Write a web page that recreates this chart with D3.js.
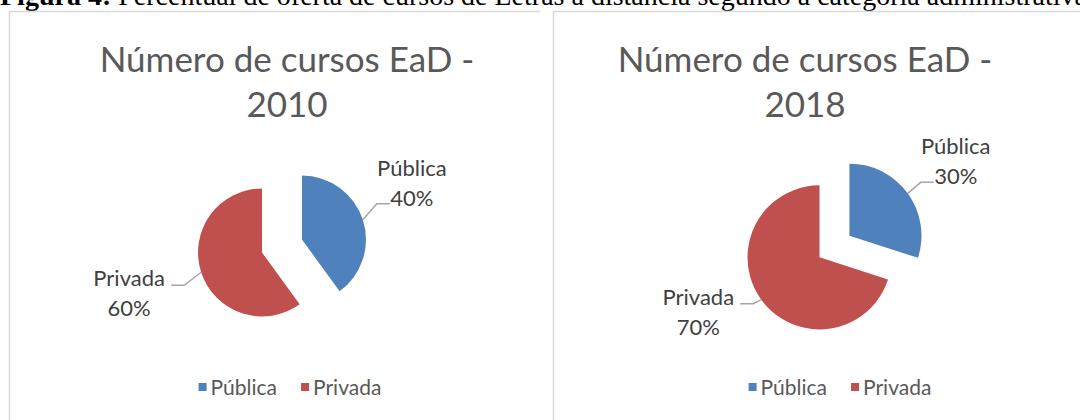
<!DOCTYPE html>
<html>
<head>
<meta charset="utf-8">
<script src="https://cdn.jsdelivr.net/npm/d3@7"></script>
<style>
  html, body { margin: 0; padding: 0; background: #fff; }
  svg { display: block; }
</style>
</head>
<body>
<div id="chart"></div>
<script>
const categories = ['Pública', 'Privada'];
const years = ['2010', '2018'];
const shares2010 = [40, 60];
const shares2018 = [30, 70];
const titleLines = ['Número de cursos EaD -'];
const captionBold = 'Figura 4:';
const captionText = ' Percentual de oferta de cursos de Letras a distância segundo a categoria administrativa';
const colors = ['#4f81bd', '#c0504d'];

const w = 1080, h = 420;
const sans = 'Lato, "Open Sans", sans-serif';

const svg = d3.select('#chart').append('svg')
    .attr('width', w)
    .attr('height', h);

// caption (cut at the top like in the page scan)
svg.append('text')
    .attr('x', 0)
    .attr('y', 5)
    .attr('font-family', '"Liberation Serif", "Times New Roman", serif')
    .attr('font-size', 28)
    .attr('fill', '#000')
    .call(t => t.append('tspan').attr('font-weight', 'bold').text(captionBold))
    .call(t => t.append('tspan').text(captionText));

// chart frames
const frame = svg.append('g')
    .attr('fill', 'none')
    .attr('stroke', '#d9d9d9')
    .attr('stroke-width', 1.5);
frame.append('path').attr('d', 'M9.5,' + h + 'V11.5H540');
frame.append('path').attr('d', 'M553.5,' + h + 'V11.5H' + w);

const charts = [
    { year: years[0], values: shares2010, cx: 282, cy: 246, r: 64, explode: 21, titleX: 287, legendX: 290,
      elbows: [[14, -16], [-17, 13]] },
    { year: years[1], values: shares2018, cx: 834.5, cy: 246.5, r: 72, explode: 18.5, titleX: 805, legendX: 840,
      elbows: [[13, -11], [-8, 4]] }
];

const pie = d3.pie().sort(null).value(d => d);

charts.forEach(c => {
    const g = svg.append('g');
    const arc = d3.arc().innerRadius(0).outerRadius(c.r);
    const slices = pie(c.values);

    // title
    g.append('text')
        .attr('x', c.titleX)
        .attr('y', 72)
        .attr('text-anchor', 'middle')
        .attr('font-family', sans)
        .attr('font-size', 35)
        .attr('fill', '#595959')
        .call(t => t.append('tspan').attr('x', c.titleX).text(titleLines[0]))
        .call(t => t.append('tspan').attr('x', c.titleX).attr('dy', 45).text(c.year));

    // slices, every point pulled out along its bisector
    const mid = d => (d.startAngle + d.endAngle) / 2;
    const off = d => [Math.sin(mid(d)) * c.explode, -Math.cos(mid(d)) * c.explode];

    g.selectAll('path.slice')
        .data(slices)
        .enter()
        .append('path')
        .attr('class', 'slice')
        .attr('d', arc)
        .attr('fill', (d, i) => colors[i])
        .attr('transform', d => 'translate(' + (c.cx + off(d)[0]) + ',' + (c.cy + off(d)[1]) + ')');

    // leader lines + labels
    slices.forEach((d, i) => {
        const a = mid(d);
        const side = Math.sin(a) >= 0 ? 1 : -1;
        const s = [c.cx + off(d)[0] + Math.sin(a) * c.r, c.cy + off(d)[1] - Math.cos(a) * c.r];
        const e = [s[0] + c.elbows[i][0], s[1] + c.elbows[i][1]];
        const end = [e[0] + side * 13, e[1]];

        g.append('path')
            .attr('d', d3.line()([s, e, end]))
            .attr('fill', 'none')
            .attr('stroke', '#a6a6a6')
            .attr('stroke-width', 1.5);

        const lx = end[0] + (side > 0 ? 22 : -42);
        const y1 = end[1] + (side > 0 ? -36 : -7);
        const lab = g.append('text')
            .attr('text-anchor', 'middle')
            .attr('font-family', sans)
            .attr('font-size', 22)
            .attr('fill', '#404040');
        lab.append('tspan').attr('x', lx).attr('y', y1 + 8).text(categories[i]);
        lab.append('tspan').attr('x', lx).attr('y', y1 + 8 + 30).text(d.data + '%');
    });

    // legend
    const lg = g.append('g').attr('font-family', sans).attr('font-size', 21).attr('fill', '#595959');
    const items = lg.selectAll('g')
        .data(categories)
        .enter()
        .append('g');
    items.append('rect')
        .attr('width', 8)
        .attr('height', 8)
        .attr('y', -12)
        .attr('fill', (d, i) => colors[i]);
    items.append('text')
        .attr('x', 12)
        .text(d => d);
    let x = 0;
    items.each(function () {
        d3.select(this).attr('transform', 'translate(' + x + ',0)');
        x += this.getBBox().width + 24;
    });
    const lw = x - 24;
    lg.attr('transform', 'translate(' + (c.legendX - lw / 2) + ',395)');
});
</script>
</body>
</html>
